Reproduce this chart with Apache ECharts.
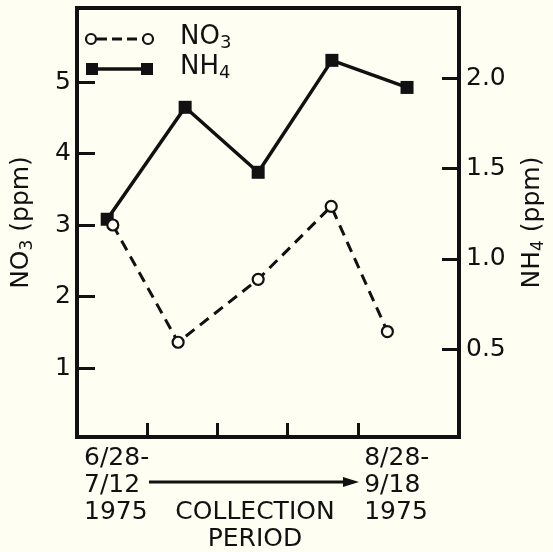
<!DOCTYPE html>
<html>
<head>
<meta charset="utf-8">
<script src="https://cdn.jsdelivr.net/npm/echarts@6/dist/echarts.min.js"></script>
<style>
  html, body { margin: 0; padding: 0; background: #fefef2; }
  #chart { width: 553px; height: 552px; }
</style>
</head>
<body>
<div id="chart"></div>
<script>
// positions along the collection period (ticks mark the period boundaries)
const nh4Period = [0.43, 1.54, 2.58, 3.63, 4.70];
const nh4Values = [1.22, 1.84, 1.48, 2.10, 1.95];
const no3Period = [0.51, 1.44, 2.58, 3.62, 4.42];
const no3Values = [3.0, 1.36, 2.24, 3.26, 1.51];

const periodTicks = [1, 2, 3, 4];
const periodLabelPos = [0.1, 4.09];
const periodLabels = ['6/28-\n7/12\n1975', '8/28-\n9/18\n1975'];
const no3Ticks = [1, 2, 3, 4, 5];
const nh4Ticks = [0.5, 1.0, 1.5, 2.0];

const ink = '#111';
const paper = '#fefef2';
const font = 'DejaVu Sans';

const chart = echarts.init(document.getElementById('chart'));

const option = {
  backgroundColor: paper,
  animation: false,
  textStyle: { fontFamily: font, color: ink },
  grid: {
    left: 77, right: 94, top: 8, bottom: 115,
    show: true, borderColor: ink, borderWidth: 4,
    outerBoundsMode: 'none'
  },
  xAxis: {
    type: 'value',
    min: 0,
    max: 5.44,
    splitLine: { show: false },
    axisLine: { lineStyle: { color: ink, width: 4 } },
    axisTick: {
      inside: true, length: 14, customValues: periodTicks,
      lineStyle: { color: ink, width: 3 }
    },
    axisLabel: {
      customValues: periodLabelPos,
      align: 'left',
      margin: 8,
      fontFamily: font, fontSize: 25, lineHeight: 27, color: ink,
      formatter: function (value) {
        const i = periodLabelPos.indexOf(value);
        return i >= 0 ? periodLabels[i] : '';
      }
    },
    name: 'COLLECTION\nPERIOD',
    nameLocation: 'middle',
    nameGap: 62,
    nameMoveOverlap: false,
    nameTextStyle: {
      fontFamily: font, fontSize: 25, lineHeight: 27, color: ink,
      padding: [0, 26, 0, 0]
    }
  },
  yAxis: [
    {
      type: 'value',
      position: 'left',
      min: 0.035,
      max: 6.035,
      splitLine: { show: false },
      axisLine: { show: true, lineStyle: { color: ink, width: 4 } },
      axisTick: {
        show: true, inside: true, length: 18, customValues: no3Ticks,
        lineStyle: { color: ink, width: 3 }
      },
      axisLabel: {
        customValues: no3Ticks, margin: 6,
        fontFamily: font, fontSize: 25, color: ink
      },
      name: '{a|NO}{s|3}{a| (ppm)}',
      nameLocation: 'middle',
      nameRotate: 90,
      nameGap: 41,
      nameMoveOverlap: false,
      nameTextStyle: {
        rich: {
          a: { fontFamily: font, fontSize: 25, lineHeight: 30, color: ink },
          s: { fontFamily: font, fontSize: 17, lineHeight: 17, verticalAlign: 'bottom', color: ink }
        }
      }
    },
    {
      type: 'value',
      position: 'right',
      min: 0.014,
      max: 2.39,
      splitLine: { show: false },
      axisLine: { show: true, lineStyle: { color: ink, width: 4 } },
      axisTick: {
        show: true, inside: true, length: 17, customValues: nh4Ticks,
        lineStyle: { color: ink, width: 3 }
      },
      axisLabel: {
        customValues: nh4Ticks, margin: 7,
        fontFamily: font, fontSize: 25, color: ink,
        formatter: function (value) { return value.toFixed(1); }
      },
      name: '{a|NH}{s|4}{a| (ppm)}',
      nameLocation: 'middle',
      nameRotate: 90,
      nameGap: 58,
      nameMoveOverlap: false,
      nameTextStyle: {
        rich: {
          a: { fontFamily: font, fontSize: 25, lineHeight: 30, color: ink },
          s: { fontFamily: font, fontSize: 17, lineHeight: 17, verticalAlign: 'bottom', color: ink }
        }
      }
    }
  ],
  graphic: [
    // legend: NO3
    { type: 'line', shape: { x1: 97, y1: 39, x2: 143, y2: 39 }, style: { stroke: ink, lineWidth: 3, lineDash: [10, 5] } },
    { type: 'circle', shape: { cx: 91, cy: 39, r: 5 }, style: { fill: paper, stroke: ink, lineWidth: 2.2 } },
    { type: 'circle', shape: { cx: 148, cy: 39, r: 5 }, style: { fill: paper, stroke: ink, lineWidth: 2.2 } },
    {
      type: 'text', left: 180, top: 24,
      style: {
        text: '{a|NO}{s|3}',
        rich: {
          a: { fontFamily: font, fontSize: 26, lineHeight: 30, fill: ink },
          s: { fontFamily: font, fontSize: 18, lineHeight: 18, verticalAlign: 'bottom', fill: ink }
        }
      }
    },
    // legend: NH4
    { type: 'line', shape: { x1: 92, y1: 69, x2: 147, y2: 69 }, style: { stroke: ink, lineWidth: 3.5 } },
    { type: 'rect', shape: { x: 86, y: 63, width: 12, height: 12 }, style: { fill: ink } },
    { type: 'rect', shape: { x: 141, y: 63, width: 12, height: 12 }, style: { fill: ink } },
    {
      type: 'text', left: 180, top: 54,
      style: {
        text: '{a|NH}{s|4}',
        rich: {
          a: { fontFamily: font, fontSize: 26, lineHeight: 30, fill: ink },
          s: { fontFamily: font, fontSize: 18, lineHeight: 18, verticalAlign: 'bottom', fill: ink }
        }
      }
    },
    // arrow along the collection period
    { type: 'line', shape: { x1: 149, y1: 482, x2: 346, y2: 482 }, style: { stroke: ink, lineWidth: 3 } },
    { type: 'polygon', shape: { points: [[343, 477], [359, 482], [343, 487]] }, style: { fill: ink } }
  ],
  series: [
    {
      name: 'NH4',
      type: 'line',
      yAxisIndex: 1,
      data: nh4Period.map((x, i) => [x, nh4Values[i]]),
      symbol: 'rect',
      symbolSize: 13,
      itemStyle: { color: ink },
      lineStyle: { color: ink, width: 3.5 },
      z: 2
    },
    {
      name: 'NO3',
      type: 'line',
      yAxisIndex: 0,
      data: no3Period.map((x, i) => [x, no3Values[i]]),
      symbol: 'circle',
      symbolSize: 11,
      showAllSymbol: true,
      itemStyle: { color: paper, borderColor: ink, borderWidth: 2.2 },
      lineStyle: { color: ink, width: 3, type: [11, 7] },
      z: 3
    }
  ]
};

chart.setOption(option);
</script>
</body>
</html>
